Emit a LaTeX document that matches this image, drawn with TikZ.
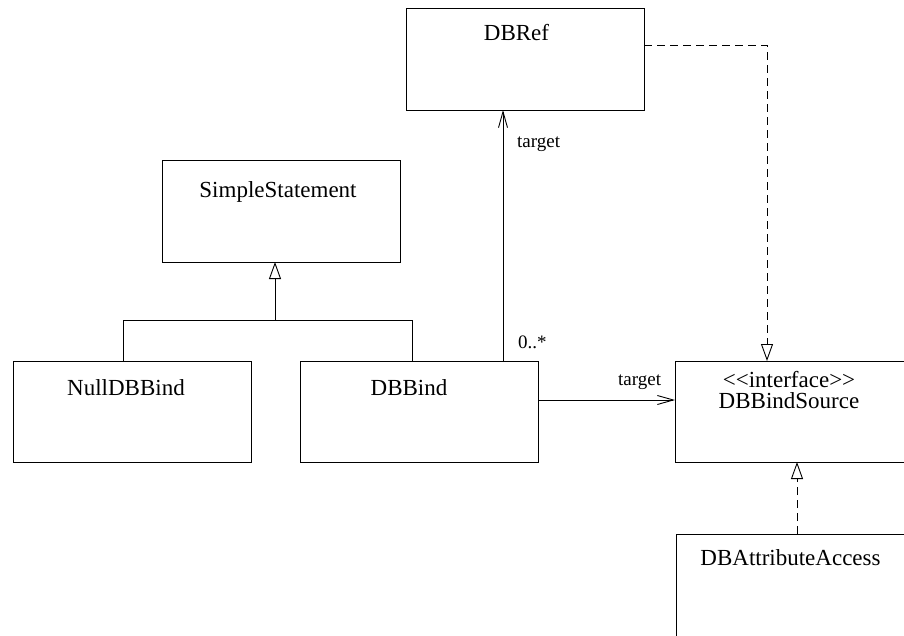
\documentclass[tikz,border=0pt]{standalone}
\usepackage{fontspec}
\setmainfont{Liberation Serif}
\usetikzlibrary{arrows.meta}
\begin{document}
\begin{tikzpicture}[x=1pt,y=-1pt,
 cls/.style={draw, line width=0.9pt, minimum width=238pt, minimum height=102pt, inner sep=0pt, outer sep=0pt, anchor=north west},
 cname/.style={font=\fontsize{23}{23}\selectfont, anchor=base, inner sep=0pt},
 lbl/.style={font=\fontsize{19}{19}\selectfont, anchor=base west, inner sep=0pt},
 conn/.style={line width=0.9pt},
 assoc/.style={conn, -{Straight Barb[length=16pt,width=9pt]}},
 gen/.style={conn, -{Triangle[open,length=17pt,width=12pt]}},
 real/.style={gen, dash pattern=on 8pt off 5pt}]
\useasboundingbox (0,0) rectangle (904,635);
\clip (0,0) rectangle (904,635);
\node[cls] (dbref) at (406,8) {};
\node[cls] (simple) at (162,160) {};
\node[cls, minimum height=101pt] (null) at (13,361) {};
\node[cls, minimum height=101pt] (dbbind) at (300,361) {};
\node[cls, minimum height=101pt] (src) at (675,361) {};
\node[cls] (attr) at (676,534) {};
\node[cname] (t1) at (516.5,40) {DBRef};
\node[cname] (t2) at (278,197) {SimpleStatement};
\node[cname] (t3) at (126,395) {NullDBBind};
\node[cname] (t4) at (409,395) {DBBind};
\node[cname, anchor=north, align=center, font=\fontsize{23}{21}\selectfont] (t5) at (789,371) {<{}<interface>{}>\\DBBindSource};
\node[cname] (t7) at (790.5,565) {DBAttributeAccess};
\node[lbl] (l1) at (517,147) {target};
\node[lbl] (l2) at (518,348) {0..*};
\node[lbl] (l3) at (618,385) {target};
\coordinate (gj) at (275,320);
\coordinate (gl) at (123,320);
\coordinate (gr) at (412,320);
\draw[conn] (null.north -| gl) -- (gl) -- (gr) -- (dbbind.north -| gr);
\draw[gen] (gj) -- (simple.south -| gj);
\coordinate (ax) at (503,0);
\draw[assoc] (dbbind.north -| ax) -- (dbref.south -| ax);
\coordinate (ay) at (0,400);
\draw[assoc] (dbbind.east |- ay) -- (src.west |- ay);
\coordinate (rc) at (767,45);
\draw[real] (dbref.east |- rc) -| (src.north -| rc);
\coordinate (rx) at (797,0);
\draw[real] (attr.north -| rx) -- (src.south -| rx);
\end{tikzpicture}
\end{document}
